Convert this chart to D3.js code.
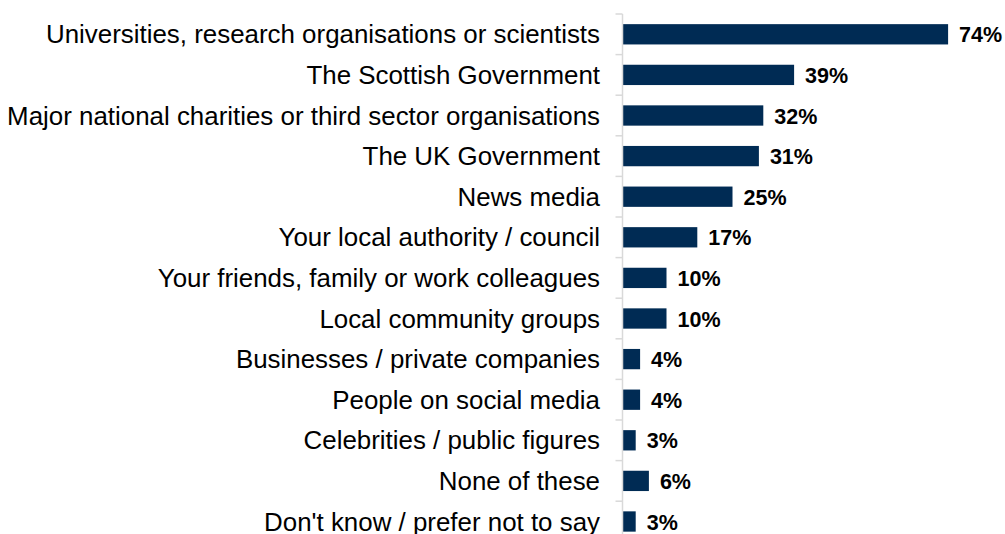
<!DOCTYPE html>
<html>
<head>
<meta charset="utf-8">
<script src="https://cdn.jsdelivr.net/npm/d3@7"></script>
<style>
  html, body { margin: 0; padding: 0; background: #fff; }
  svg { display: block; }
</style>
</head>
<body>
<svg id="chart" width="1005" height="534"></svg>
<script>
const categories = [
  "Universities, research organisations or scientists",
  "The Scottish Government",
  "Major national charities or third sector organisations",
  "The UK Government",
  "News media",
  "Your local authority / council",
  "Your friends, family or work colleagues",
  "Local community groups",
  "Businesses / private companies",
  "People on social media",
  "Celebrities / public figures",
  "None of these",
  "Don't know / prefer not to say"
];
const values = [74, 39, 32, 31, 25, 17, 10, 10, 4, 4, 3, 6, 3];

const svg = d3.select("#chart");
const axisX = 622.5;
const plotTop = 14;
const bandStep = 40.6;

const x = d3.scaleLinear().domain([0, 100]).range([axisX, axisX + 440]);
const y = d3.scaleBand()
  .domain(categories)
  .range([plotTop, plotTop + bandStep * categories.length])
  .paddingInner(0.5)
  .paddingOuter(0.25);

// bars
svg.append("g").selectAll("rect")
  .data(categories)
  .join("rect")
  .attr("x", axisX)
  .attr("y", d => y(d))
  .attr("width", (d, i) => x(values[i]) - axisX)
  .attr("height", y.bandwidth())
  .attr("fill", "#002b54");

// category axis with boundary ticks
const g = svg.append("g");
g.append("line")
  .attr("x1", axisX).attr("x2", axisX)
  .attr("y1", plotTop).attr("y2", plotTop + bandStep * categories.length)
  .attr("stroke", "#d9d9d9").attr("stroke-width", 1.5);
d3.range(categories.length + 1).forEach(i => {
  g.append("line")
    .attr("x1", axisX - 7).attr("x2", axisX)
    .attr("y1", plotTop + i * bandStep).attr("y2", plotTop + i * bandStep)
    .attr("stroke", "#d9d9d9").attr("stroke-width", 1.5);
});

// category labels
svg.append("g").selectAll("text")
  .data(categories)
  .join("text")
  .attr("x", 600)
  .attr("y", d => y(d) + y.bandwidth() / 2)
  .attr("dy", "0.35em")
  .attr("text-anchor", "end")
  .attr("font-family", "Liberation Sans, Arial, sans-serif")
  .attr("font-size", 25.9)
  .attr("fill", "#000")
  .text(d => d);

// value labels
svg.append("g").selectAll("text")
  .data(categories)
  .join("text")
  .attr("x", (d, i) => x(values[i]) + 11)
  .attr("y", d => y(d) + y.bandwidth() / 2)
  .attr("dy", "0.38em")
  .attr("font-family", "Liberation Sans, Arial, sans-serif")
  .attr("font-weight", "bold")
  .attr("font-size", 21.5)
  .attr("fill", "#000")
  .text((d, i) => values[i] + "%");
</script>
</body>
</html>
